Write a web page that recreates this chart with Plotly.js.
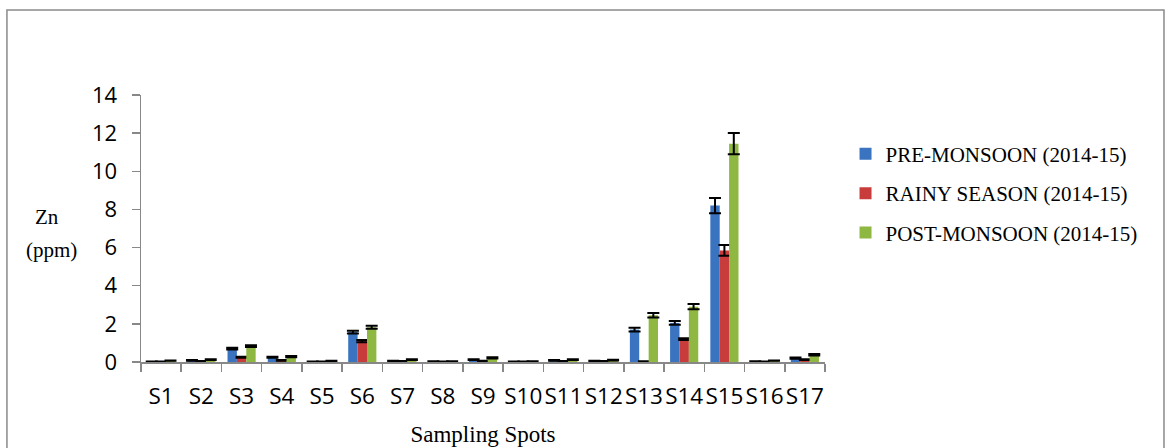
<!DOCTYPE html>
<html>
<head>
<meta charset="utf-8">
<script src="https://cdn.plot.ly/plotly-3.0.1.min.js"></script>
<style>html,body{margin:0;padding:0;background:#fff;}#chart{width:1170px;height:448px;}</style>
</head>
<body>
<div id="chart"></div>
<script>
const categories = ["S1","S2","S3","S4","S5","S6","S7","S8","S9","S10","S11","S12","S13","S14","S15","S16","S17"];
const seriesNames = ["PRE-MONSOON (2014-15)","RAINY SEASON (2014-15)","POST-MONSOON (2014-15)"];
const preMonsoon  = [0.02,0.08,0.70,0.25,0.02,1.57,0.06,0.03,0.13,0.01,0.08,0.06,1.70,2.05,8.20,0.03,0.20];
const rainy       = [0.02,0.04,0.25,0.08,0.02,1.10,0.04,0.02,0.05,0.01,0.04,0.04,0.03,1.20,5.85,0.02,0.13];
const postMonsoon = [0.07,0.13,0.83,0.28,0.05,1.82,0.12,0.03,0.22,0.03,0.12,0.10,2.45,2.90,11.45,0.07,0.38];
const preErr   = [0.01,0.02,0.05,0.03,0.01,0.07,0.01,0.01,0.02,0.01,0.02,0.01,0.10,0.10,0.40,0.01,0.03];
const rainyErr = [0.01,0.01,0.03,0.02,0.01,0.06,0.01,0.01,0.01,0.01,0.01,0.01,0.01,0.05,0.28,0.01,0.02];
const postErr  = [0.01,0.02,0.05,0.03,0.01,0.08,0.02,0.01,0.03,0.01,0.02,0.02,0.12,0.14,0.56,0.01,0.04];
const colors = ["#3a74c0","#c83d3b","#8fb842"];

const values = [preMonsoon, rainy, postMonsoon];
const errs = [preErr, rainyErr, postErr];
const data = values.map((v,i)=>({
  type:"bar", x:categories, y:v, name:seriesNames[i],
  legendgroup:"g"+i,
  marker:{color:colors[i], line:{width:0}},
  error_y:{type:"data", array:errs[i], visible:true, color:"#000", thickness:2, width:6}
}));

const layout = {
  width:1170, height:448,
  margin:{l:141, r:345, t:95, b:86},
  paper_bgcolor:"#fff", plot_bgcolor:"#fff",
  barmode:"group", bargap:0.3, bargroupgap:0,
  font:{family:"Open Sans", color:"#000"},
  showlegend:true,
  legend:{x:1.030, y:0.855, xanchor:"left", yanchor:"top", traceorder:"grouped", tracegroupgap:9,
          itemwidth:30,
          font:{family:"Liberation Serif", size:21, color:"#000"}, bgcolor:"rgba(0,0,0,0)"},
  xaxis:{type:"category", showgrid:false, zeroline:false, showline:true, linecolor:"#888", linewidth:1.5,
         ticks:"outside", tickson:"boundaries", ticklen:8, tickcolor:"#888", tickwidth:1.5, tickangle:0,
         tickfont:{family:"Open Sans", size:22.5, color:"#000"}, ticklabelstandoff:13,
         title:{text:"Sampling Spots", font:{family:"Liberation Serif", size:23, color:"#000"}, standoff:16}},
  yaxis:{range:[0,14], dtick:2, showgrid:false, zeroline:false, showline:true, linecolor:"#888", linewidth:1.5,
         ticks:"outside", ticklen:8, tickcolor:"#888", tickwidth:1.5,
         tickfont:{family:"Open Sans", size:22, color:"#000"}, ticklabelstandoff:10},
  annotations:[
    {text:"Zn", xref:"paper", yref:"paper", x:-0.138, y:(362-217)/267, xanchor:"center", yanchor:"middle",
     showarrow:false, font:{family:"Liberation Serif", size:21, color:"#000"}},
    {text:"(ppm)", xref:"paper", yref:"paper", x:-0.131, y:(362-250)/267, xanchor:"center", yanchor:"middle",
     showarrow:false, font:{family:"Liberation Serif", size:21, color:"#000"}}
  ],
  shapes:[{type:"rect", xref:"paper", yref:"paper", x0:-0.196, x1:1.4956, y0:-0.35, y1:1.318,
           line:{color:"#8a8a8a", width:1.5}, fillcolor:"rgba(0,0,0,0)", layer:"below"}]
};
Plotly.newPlot("chart", data, layout, {displayModeBar:false, staticPlot:true});
</script>
</body>
</html>
